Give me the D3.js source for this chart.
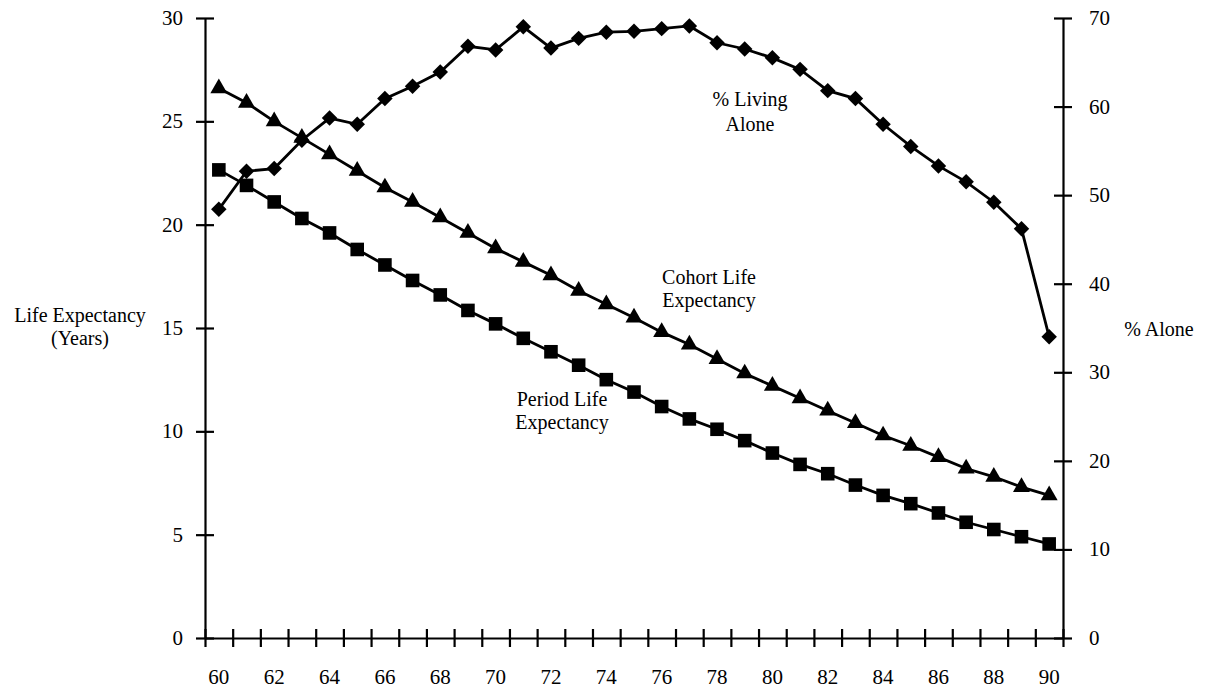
<!DOCTYPE html>
<html>
<head>
<meta charset="utf-8">
<script src="https://cdn.jsdelivr.net/npm/d3@7"></script>
<style>
  body { margin: 0; background: #fff; }
  svg text { font-family: "Liberation Serif", "Times New Roman", serif; fill: #000; }
</style>
</head>
<body>
<svg width="1206" height="691"></svg>
<script>
// Data
const ages = d3.range(60, 91);
const cohortLE = [26.6, 25.9, 25.0, 24.2, 23.4, 22.6, 21.8, 21.1, 20.35, 19.6, 18.85, 18.2, 17.55, 16.8, 16.15,
  15.5, 14.8, 14.2, 13.5, 12.8, 12.2, 11.6, 11.0, 10.4, 9.8, 9.3, 8.75, 8.2, 7.8, 7.3, 6.9];
const periodLE = [22.65, 21.9, 21.1, 20.3, 19.6, 18.8, 18.05, 17.3, 16.6, 15.85, 15.2, 14.5, 13.85, 13.2, 12.5,
  11.9, 11.2, 10.6, 10.1, 9.55, 8.95, 8.4, 7.95, 7.4, 6.9, 6.5, 6.05, 5.6, 5.25, 4.9, 4.55];
const pctAlone = [48.4, 52.7, 53.0, 56.2, 58.7, 58.0, 60.9, 62.3, 63.9, 66.8, 66.4, 69.0, 66.6, 67.7, 68.4,
  68.5, 68.8, 69.1, 67.2, 66.5, 65.5, 64.2, 61.8, 60.9, 58.0, 55.5, 53.3, 51.5, 49.2, 46.2, 34.0];
const leftTicks = [0, 5, 10, 15, 20, 25, 30];
const rightTicks = [0, 10, 20, 30, 40, 50, 60, 70];
const xLabels = d3.range(60, 91, 2);

const svg = d3.select("svg");
const font = 21;

// scales
const x = d3.scaleLinear().domain([59.5, 90.5]).range([205, 1063]);
const yL = d3.scaleLinear().domain([0, 30]).range([638, 18]);
const yR = d3.scaleLinear().domain([0, 70]).range([638, 18]);

// axes: ticks cross the axis line
const crossTicks = g => {
  g.select(".domain").attr("stroke", "#000").attr("stroke-width", 2.2);
  g.selectAll(".tick text").remove();
};

const leftAxis = svg.append("g")
  .attr("transform", `translate(${x(59.5)},0)`)
  .call(d3.axisLeft(yL).tickValues(leftTicks).tickSizeOuter(0))
  .call(crossTicks);
leftAxis.selectAll(".tick line").attr("x1", -9).attr("x2", 9).attr("stroke", "#000").attr("stroke-width", 2.2);

const rightAxis = svg.append("g")
  .attr("transform", `translate(${x(90.5)},0)`)
  .call(d3.axisRight(yR).tickValues(rightTicks).tickSizeOuter(0))
  .call(crossTicks);
rightAxis.selectAll(".tick line").attr("x1", -9).attr("x2", 9).attr("stroke", "#000").attr("stroke-width", 2.2);

const bottomAxis = svg.append("g")
  .attr("transform", `translate(0,${yL(0)})`)
  .call(d3.axisBottom(x).tickValues(d3.range(59.5, 91, 1)).tickSizeOuter(0))
  .call(crossTicks);
bottomAxis.selectAll(".tick line").attr("y1", -9).attr("y2", 9).attr("stroke", "#000").attr("stroke-width", 2.2);

// tick labels
svg.selectAll(".ylab").data(leftTicks).enter().append("text")
  .attr("x", 183).attr("y", d => yL(d) + 7)
  .attr("text-anchor", "end").attr("font-size", font).text(d => d);

svg.selectAll(".rlab").data(rightTicks).enter().append("text")
  .attr("x", 1089).attr("y", d => yR(d) + 7)
  .attr("text-anchor", "start").attr("font-size", font).text(d => d);

svg.selectAll(".xlab").data(xLabels).enter().append("text")
  .attr("x", d => x(d)).attr("y", 684)
  .attr("text-anchor", "middle").attr("font-size", font).text(d => d);

// series
const lineL = vals => d3.line().x((d, i) => x(ages[i])).y(d => yL(d))(vals);
const lineR = vals => d3.line().x((d, i) => x(ages[i])).y(d => yR(d))(vals);

svg.append("path").attr("d", lineL(cohortLE)).attr("fill", "none").attr("stroke", "#000").attr("stroke-width", 2.8);
svg.append("path").attr("d", lineL(periodLE)).attr("fill", "none").attr("stroke", "#000").attr("stroke-width", 2.8);
svg.append("path").attr("d", lineR(pctAlone)).attr("fill", "none").attr("stroke", "#000").attr("stroke-width", 2.8);

svg.selectAll(".tri").data(cohortLE).enter().append("path")
  .attr("d", d3.symbol(d3.symbolTriangle, 125))
  .attr("transform", (d, i) => `translate(${x(ages[i])},${yL(d)})`)
  .attr("fill", "#000");

svg.selectAll(".sq").data(periodLE).enter().append("path")
  .attr("d", d3.symbol(d3.symbolSquare, 185))
  .attr("transform", (d, i) => `translate(${x(ages[i])},${yL(d)})`)
  .attr("fill", "#000");

svg.selectAll(".dia").data(pctAlone).enter().append("path")
  .attr("d", d3.symbol(d3.symbolSquare, 120))
  .attr("transform", (d, i) => `translate(${x(ages[i])},${yR(d)}) rotate(45)`)
  .attr("fill", "#000");

// annotations
const label = (lines, cx, y0, gap) => {
  lines.forEach((t, i) => {
    svg.append("text").attr("x", cx).attr("y", y0 + i * gap)
      .attr("text-anchor", "middle").attr("font-size", 20).text(t);
  });
};
label(["Life Expectancy", "(Years)"], 80, 322, 23);
label(["% Alone"], 1159, 336, 0);
label(["% Living", "Alone"], 750, 106, 25);
label(["Cohort Life", "Expectancy"], 709, 284, 23);
label(["Period Life", "Expectancy"], 562, 406, 23);
</script>
</body>
</html>
